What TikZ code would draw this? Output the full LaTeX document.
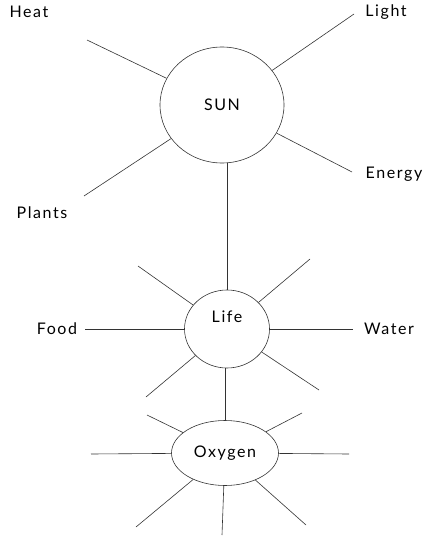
\documentclass[tikz,border=0pt]{standalone}
\usepackage{fontspec}
\setmainfont{Lato}[LetterSpace=10]
\usetikzlibrary{shapes.geometric}
\begin{document}
\begin{tikzpicture}[x=1pt,y=-1pt,font=\fontsize{16}{18}\selectfont,
  hub/.style={draw,ellipse,inner sep=0pt,line width=0.6pt,draw=black!80},
  spoke/.style={line width=0.6pt,draw=black!80},
  word/.style={inner sep=1pt}]
\useasboundingbox (0,0) rectangle (425,540);
% the three hubs
\node[hub,minimum width=124,minimum height=116] (sun) at (222,105) {SUN};
\node[hub,minimum width=85,minimum height=78] (life) at (227,329) {};
\node[word] (lifetext) at (227,317) {Life};
\node[hub,minimum width=107,minimum height=65] (oxygen) at (225,453) {Oxygen};
% words
\node[word] (heat) at (29,12) {Heat};
\node[word] (light) at (386,12) {Light};
\node[word] (energy) at (394,174) {Energy};
\node[word] (plants) at (42,213) {Plants};
\node[word] (food) at (57,329) {Food};
\node[word] (water) at (389,329) {Water};
% free ends of the spokes
\coordinate (heatend) at (87,40);
\coordinate (lightend) at (354,14);
\coordinate (plantsend) at (84,196);
\coordinate (energyend) at (352,172);
\coordinate (lifenw) at (138,266);
\coordinate (lifene) at (310,259);
\coordinate (lifesw) at (146,397);
\coordinate (lifese) at (319,390);
\coordinate (foodend) at (85,329);
\coordinate (waterend) at (353,329);
\coordinate (oxnw) at (147,415);
\coordinate (oxne) at (302,413);
\coordinate (oxw) at (91,454);
\coordinate (oxe) at (349,454);
\coordinate (oxsw) at (136,527);
\coordinate (oxs) at (222,535);
\coordinate (oxse) at (306,525);
% sun spokes
\foreach \e in {heatend,lightend,plantsend,energyend}
  \draw[spoke] (sun) -- (\e);
\draw[spoke] (life.north) -- (life.north |- sun.south);
% life spokes
\foreach \e in {lifenw,lifene,lifesw,lifese,foodend,waterend}
  \draw[spoke] (life) -- (\e);
\draw[spoke] (oxygen.north) -- (oxygen.north |- life.south);
% oxygen spokes
\foreach \e in {oxnw,oxne,oxw,oxe,oxsw,oxs,oxse}
  \draw[spoke] (oxygen) -- (\e);
\end{tikzpicture}
\end{document}
